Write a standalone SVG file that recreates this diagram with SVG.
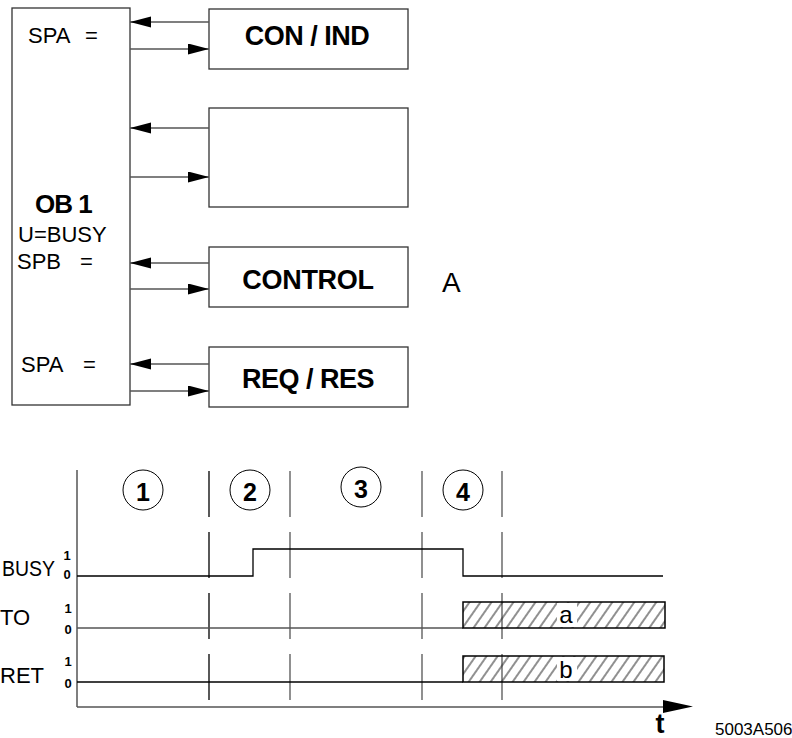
<svg xmlns="http://www.w3.org/2000/svg" width="792" height="738" viewBox="0 0 792 738">
<style>
.box{fill:#fff;stroke:#333;stroke-width:1.3}
.t{font-family:"Liberation Sans",Arial,sans-serif;fill:#000}
.b{font-weight:bold}
.con{stroke:#555;stroke-width:1.3;fill:none}
.ph{stroke-width:1.3;stroke-dasharray:46 15;fill:none}
.sig{stroke:#000;stroke-width:1.3;fill:none}
</style>
<defs>
<marker id="ah" markerUnits="userSpaceOnUse" markerWidth="22" markerHeight="12" refX="21" refY="5.5" orient="auto">
<path d="M0,0 L21,5.5 L0,11 Z" fill="#000"/>
</marker>
<pattern id="hatch" patternUnits="userSpaceOnUse" width="9" height="10" patternTransform="rotate(35)">
<line x1="1" y1="0" x2="1" y2="10" stroke="#222" stroke-width="1"/>
</pattern>
</defs>
<rect width="792" height="738" fill="#fff"/>

<g id="ob1">
<rect class="box" x="12" y="8" width="118" height="397"/>
<text class="t" x="28" y="43" font-size="22">SPA</text>
<text class="t" x="85" y="43" font-size="22">=</text>
<text class="t b" x="35" y="213" font-size="26" letter-spacing="-1">OB 1</text>
<text class="t" x="18" y="242" font-size="22">U=BUSY</text>
<text class="t" x="17" y="269" font-size="22">SPB</text>
<text class="t" x="80" y="269" font-size="22">=</text>
<text class="t" x="21" y="372" font-size="22">SPA</text>
<text class="t" x="83" y="372" font-size="22">=</text>
</g>

<g id="conind">
<rect class="box" x="209" y="9" width="199" height="60"/>
<text class="t b" x="307" y="45" font-size="27" text-anchor="middle" letter-spacing="-0.5">CON / IND</text>
</g>
<g id="empty">
<rect class="box" x="209" y="108" width="199" height="99"/>
</g>
<g id="control">
<rect class="box" x="209" y="247" width="199" height="60"/>
<text class="t b" x="308" y="289" font-size="27" text-anchor="middle" letter-spacing="-0.3">CONTROL</text>
</g>
<g id="reqres">
<rect class="box" x="209" y="347" width="199" height="60"/>
<text class="t b" x="308" y="388" font-size="27" text-anchor="middle" letter-spacing="-0.5">REQ / RES</text>
</g>
<g id="labelA">
<text class="t" x="442" y="292" font-size="28">A</text>
</g>

<g id="connectors">
<line class="con" x1="209" y1="22" x2="130" y2="22" marker-end="url(#ah)"/>
<line class="con" x1="130" y1="49" x2="209" y2="49" marker-end="url(#ah)"/>
<line class="con" x1="209" y1="128" x2="130" y2="128" marker-end="url(#ah)"/>
<line class="con" x1="130" y1="177" x2="209" y2="177" marker-end="url(#ah)"/>
<line class="con" x1="209" y1="263" x2="130" y2="263" marker-end="url(#ah)"/>
<line class="con" x1="130" y1="289" x2="209" y2="289" marker-end="url(#ah)"/>
<line class="con" x1="209" y1="364" x2="130" y2="364" marker-end="url(#ah)"/>
<line class="con" x1="130" y1="391" x2="209" y2="391" marker-end="url(#ah)"/>
</g>

<g id="timing">
<line x1="77" y1="470" x2="77" y2="707" stroke="#555" stroke-width="1.5"/>
<line x1="77" y1="707" x2="665" y2="707" stroke="#555" stroke-width="1.5"/>
<path d="M663,700 L693,706.5 L663,713 Z" fill="#000"/>
<text class="t b" x="660" y="733" font-size="27" text-anchor="middle">t</text>
<text class="t" x="715" y="735" font-size="17">5003A506</text>

<line class="ph" x1="209" y1="471" x2="209" y2="702" stroke="#000"/>
<line class="ph" x1="290" y1="471" x2="290" y2="702" stroke="#555"/>
<line class="ph" x1="422" y1="471" x2="422" y2="702" stroke="#555"/>
<line class="ph" x1="502" y1="471" x2="502" y2="702" stroke="#555"/>

<g id="phase1"><circle cx="143" cy="490" r="20" fill="none" stroke="#000" stroke-width="1"/><text class="t b" x="143" y="501" font-size="25" text-anchor="middle">1</text></g>
<g id="phase2"><circle cx="250" cy="490" r="20" fill="none" stroke="#000" stroke-width="1"/><text class="t b" x="250" y="501" font-size="25" text-anchor="middle">2</text></g>
<g id="phase3"><circle cx="361" cy="487" r="20" fill="none" stroke="#000" stroke-width="1"/><text class="t b" x="361" y="498" font-size="25" text-anchor="middle">3</text></g>
<g id="phase4"><circle cx="463" cy="490" r="20" fill="none" stroke="#000" stroke-width="1"/><text class="t b" x="463" y="501" font-size="25" text-anchor="middle">4</text></g>

<text class="t" x="2" y="576" font-size="22" textLength="53" lengthAdjust="spacingAndGlyphs">BUSY</text>
<text class="t b" x="67" y="560" font-size="13" text-anchor="middle">1</text>
<text class="t b" x="67" y="579" font-size="13" text-anchor="middle">0</text>
<path class="sig" d="M77,576 H253 V549 H463 V576 H663"/>

<text class="t" x="0" y="625" font-size="22">TO</text>
<text class="t b" x="68" y="613" font-size="13" text-anchor="middle">1</text>
<text class="t b" x="68" y="634" font-size="13" text-anchor="middle">0</text>
<line x1="77" y1="628" x2="463" y2="628" stroke="#555" stroke-width="1.3"/>
<rect x="463" y="602" width="202" height="26" fill="url(#hatch)" stroke="#000" stroke-width="1.5"/>
<rect x="557" y="603" width="20" height="24" fill="#fff"/>
<text class="t" x="566" y="623" font-size="24" text-anchor="middle">a</text>

<text class="t" x="0" y="683" font-size="22">RET</text>
<text class="t b" x="68" y="666" font-size="13" text-anchor="middle">1</text>
<text class="t b" x="68" y="688" font-size="13" text-anchor="middle">0</text>
<line x1="77" y1="682" x2="463" y2="682" stroke="#000" stroke-width="1.3"/>
<rect x="463" y="656" width="201" height="26" fill="url(#hatch)" stroke="#000" stroke-width="1.5"/>
<rect x="557" y="657" width="20" height="24" fill="#fff"/>
<text class="t" x="566" y="678" font-size="24" text-anchor="middle">b</text>
</g>
</svg>
